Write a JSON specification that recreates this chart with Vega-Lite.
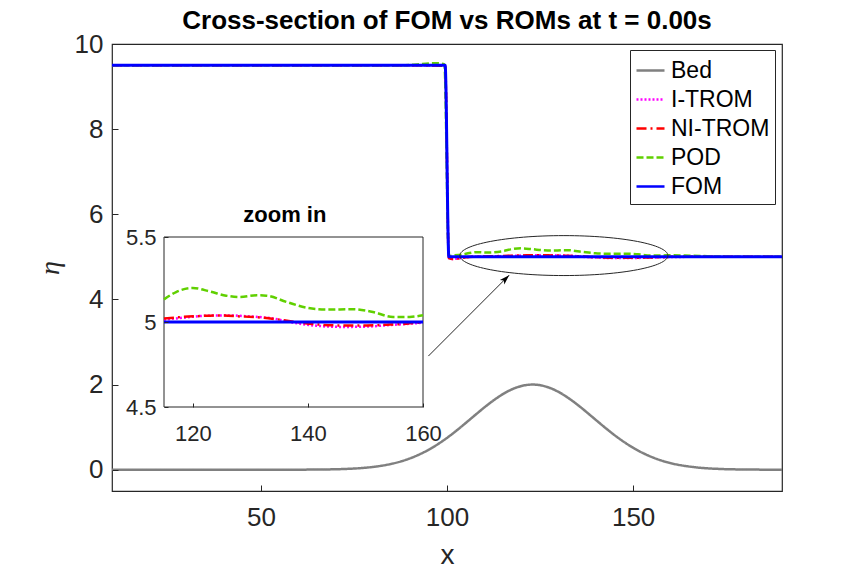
{
  "$schema": "https://vega.github.io/schema/vega-lite/v6.json",
  "width": 670,
  "height": 447,
  "autosize": {"type": "none"},
  "padding": {"left": 112, "top": 44, "right": 82, "bottom": 85},
  "background": "white",
  "config": {
    "font": "Liberation Sans",
    "view": {"stroke": "#262626", "strokeWidth": 1.2},
    "axis": {"grid": false, "labelColor": "#262626", "tickColor": "#262626", "domainColor": "#262626", "titleColor": "#262626", "labelFlush": false, "labelOverlap": false, "labelBound": false}
  },
  "title": {"text": "Cross-section of FOM vs ROMs at t = 0.00s", "fontSize": 26, "fontWeight": "bold", "color": "black", "anchor": "middle", "frame": "group", "offset": -3},
  "datasets": {
    "profiles": [
      {"model": "Bed", "x": 10, "eta": 0},
      {"model": "Bed", "x": 58, "eta": 0.001},
      {"model": "Bed", "x": 63, "eta": 0.0025},
      {"model": "Bed", "x": 68, "eta": 0.007},
      {"model": "Bed", "x": 73, "eta": 0.019},
      {"model": "Bed", "x": 78, "eta": 0.046},
      {"model": "Bed", "x": 80.5, "eta": 0.07},
      {"model": "Bed", "x": 83, "eta": 0.102},
      {"model": "Bed", "x": 85.5, "eta": 0.146},
      {"model": "Bed", "x": 88, "eta": 0.205},
      {"model": "Bed", "x": 90.5, "eta": 0.281},
      {"model": "Bed", "x": 93, "eta": 0.376},
      {"model": "Bed", "x": 95.5, "eta": 0.49},
      {"model": "Bed", "x": 98, "eta": 0.626},
      {"model": "Bed", "x": 100.5, "eta": 0.78},
      {"model": "Bed", "x": 103, "eta": 0.951},
      {"model": "Bed", "x": 105.5, "eta": 1.132},
      {"model": "Bed", "x": 108, "eta": 1.316},
      {"model": "Bed", "x": 110.5, "eta": 1.496},
      {"model": "Bed", "x": 113, "eta": 1.66},
      {"model": "Bed", "x": 115.5, "eta": 1.801},
      {"model": "Bed", "x": 118, "eta": 1.909},
      {"model": "Bed", "x": 120.5, "eta": 1.977},
      {"model": "Bed", "x": 123, "eta": 2.0},
      {"model": "Bed", "x": 125.5, "eta": 1.977},
      {"model": "Bed", "x": 128, "eta": 1.909},
      {"model": "Bed", "x": 130.5, "eta": 1.801},
      {"model": "Bed", "x": 133, "eta": 1.66},
      {"model": "Bed", "x": 135.5, "eta": 1.496},
      {"model": "Bed", "x": 138, "eta": 1.316},
      {"model": "Bed", "x": 140.5, "eta": 1.132},
      {"model": "Bed", "x": 143, "eta": 0.951},
      {"model": "Bed", "x": 145.5, "eta": 0.78},
      {"model": "Bed", "x": 148, "eta": 0.626},
      {"model": "Bed", "x": 150.5, "eta": 0.49},
      {"model": "Bed", "x": 153, "eta": 0.376},
      {"model": "Bed", "x": 155.5, "eta": 0.281},
      {"model": "Bed", "x": 158, "eta": 0.205},
      {"model": "Bed", "x": 160.5, "eta": 0.146},
      {"model": "Bed", "x": 163, "eta": 0.102},
      {"model": "Bed", "x": 165.5, "eta": 0.07},
      {"model": "Bed", "x": 168, "eta": 0.046},
      {"model": "Bed", "x": 173, "eta": 0.019},
      {"model": "Bed", "x": 178, "eta": 0.007},
      {"model": "Bed", "x": 183, "eta": 0.0025},
      {"model": "Bed", "x": 188, "eta": 0.001},
      {"model": "Bed", "x": 190, "eta": 0},

      {"model": "I-TROM", "x": 10, "eta": 9.5},
      {"model": "I-TROM", "x": 90, "eta": 9.5},
      {"model": "I-TROM", "x": 99.5, "eta": 9.49},
      {"model": "I-TROM", "x": 100.5, "eta": 4.97},
      {"model": "I-TROM", "x": 101.5, "eta": 4.95},
      {"model": "I-TROM", "x": 103, "eta": 4.96},
      {"model": "I-TROM", "x": 105, "eta": 4.99},
      {"model": "I-TROM", "x": 108, "eta": 5.005},
      {"model": "I-TROM", "x": 111, "eta": 5.01},
      {"model": "I-TROM", "x": 115, "eta": 5.014},
      {"model": "I-TROM", "x": 118.3, "eta": 5.025},
      {"model": "I-TROM", "x": 122.4, "eta": 5.037},
      {"model": "I-TROM", "x": 125.8, "eta": 5.039},
      {"model": "I-TROM", "x": 129.9, "eta": 5.033},
      {"model": "I-TROM", "x": 134, "eta": 5.02},
      {"model": "I-TROM", "x": 137.5, "eta": 4.996},
      {"model": "I-TROM", "x": 141.5, "eta": 4.978},
      {"model": "I-TROM", "x": 146.1, "eta": 4.971},
      {"model": "I-TROM", "x": 150.2, "eta": 4.973},
      {"model": "I-TROM", "x": 154.2, "eta": 4.982},
      {"model": "I-TROM", "x": 157.7, "eta": 4.99},
      {"model": "I-TROM", "x": 160, "eta": 4.996},
      {"model": "I-TROM", "x": 165, "eta": 5.0},
      {"model": "I-TROM", "x": 190, "eta": 5.0},

      {"model": "NI-TROM", "x": 10, "eta": 9.5},
      {"model": "NI-TROM", "x": 90, "eta": 9.5},
      {"model": "NI-TROM", "x": 99.5, "eta": 9.49},
      {"model": "NI-TROM", "x": 100.5, "eta": 4.97},
      {"model": "NI-TROM", "x": 101.5, "eta": 4.95},
      {"model": "NI-TROM", "x": 103, "eta": 4.96},
      {"model": "NI-TROM", "x": 105, "eta": 4.99},
      {"model": "NI-TROM", "x": 108, "eta": 5.005},
      {"model": "NI-TROM", "x": 111, "eta": 5.012},
      {"model": "NI-TROM", "x": 115, "eta": 5.02},
      {"model": "NI-TROM", "x": 118.3, "eta": 5.03},
      {"model": "NI-TROM", "x": 121.2, "eta": 5.035},
      {"model": "NI-TROM", "x": 124.1, "eta": 5.039},
      {"model": "NI-TROM", "x": 128.2, "eta": 5.033},
      {"model": "NI-TROM", "x": 132.2, "eta": 5.025},
      {"model": "NI-TROM", "x": 135.1, "eta": 5.014},
      {"model": "NI-TROM", "x": 138, "eta": 5.0},
      {"model": "NI-TROM", "x": 141.5, "eta": 4.986},
      {"model": "NI-TROM", "x": 145.6, "eta": 4.98},
      {"model": "NI-TROM", "x": 150.2, "eta": 4.98},
      {"model": "NI-TROM", "x": 153.7, "eta": 4.984},
      {"model": "NI-TROM", "x": 157.1, "eta": 4.99},
      {"model": "NI-TROM", "x": 160, "eta": 5.0},
      {"model": "NI-TROM", "x": 190, "eta": 5.0},

      {"model": "POD", "x": 10, "eta": 9.5},
      {"model": "POD", "x": 88, "eta": 9.5},
      {"model": "POD", "x": 92, "eta": 9.52},
      {"model": "POD", "x": 95, "eta": 9.54},
      {"model": "POD", "x": 97.5, "eta": 9.55},
      {"model": "POD", "x": 99.3, "eta": 9.52},
      {"model": "POD", "x": 100.5, "eta": 5.02},
      {"model": "POD", "x": 102, "eta": 5.04},
      {"model": "POD", "x": 104, "eta": 5.05},
      {"model": "POD", "x": 106, "eta": 5.09},
      {"model": "POD", "x": 108, "eta": 5.11},
      {"model": "POD", "x": 111, "eta": 5.1},
      {"model": "POD", "x": 115, "eta": 5.133},
      {"model": "POD", "x": 117.1, "eta": 5.176},
      {"model": "POD", "x": 120, "eta": 5.2},
      {"model": "POD", "x": 122.9, "eta": 5.18},
      {"model": "POD", "x": 125.8, "eta": 5.155},
      {"model": "POD", "x": 128.2, "eta": 5.147},
      {"model": "POD", "x": 131.1, "eta": 5.157},
      {"model": "POD", "x": 132.8, "eta": 5.155},
      {"model": "POD", "x": 136.3, "eta": 5.118},
      {"model": "POD", "x": 139.8, "eta": 5.084},
      {"model": "POD", "x": 143.2, "eta": 5.073},
      {"model": "POD", "x": 147.9, "eta": 5.075},
      {"model": "POD", "x": 151.3, "eta": 5.059},
      {"model": "POD", "x": 154.8, "eta": 5.03},
      {"model": "POD", "x": 157.7, "eta": 5.03},
      {"model": "POD", "x": 160, "eta": 5.04},
      {"model": "POD", "x": 164, "eta": 5.03},
      {"model": "POD", "x": 168, "eta": 5.02},
      {"model": "POD", "x": 175, "eta": 5.005},
      {"model": "POD", "x": 182, "eta": 5.0},
      {"model": "POD", "x": 190, "eta": 5.0},

      {"model": "FOM", "x": 10, "eta": 9.5},
      {"model": "FOM", "x": 99.5, "eta": 9.5},
      {"model": "FOM", "x": 100.5, "eta": 5.0},
      {"model": "FOM", "x": 115, "eta": 5.0},
      {"model": "FOM", "x": 160, "eta": 5.0},
      {"model": "FOM", "x": 190, "eta": 5.0}
    ]
  },
  "layer": [
    {
      "data": {"name": "profiles"},
      "layer": [
        {
          "transform": [{"filter": "datum.model === 'Bed'"}],
          "mark": {"type": "line", "strokeWidth": 2.5, "interpolate": "monotone"},
          "encoding": {
            "x": {"field": "x", "type": "quantitative", "scale": {"domain": [10, 190], "nice": false, "zero": false},
              "axis": {"values": [50, 100, 150], "format": "d", "title": "x", "domain": false, "tickSize": -6, "labelPadding": 19, "labelFontSize": 26, "titleFontSize": 28, "titleFontWeight": "normal", "titlePadding": 11, "zindex": 1}},
            "y": {"field": "eta", "type": "quantitative", "scale": {"domain": [-0.5, 10], "nice": false, "zero": false},
              "axis": {"values": [0, 2, 4, 6, 8, 10], "format": "d", "title": "η", "domain": false, "tickSize": -6, "labelPadding": 15, "labelFontSize": 26, "titleFont": "Liberation Serif", "titleFontStyle": "italic", "titleFontWeight": "normal", "titleFontSize": 28, "titlePadding": 10, "zindex": 1}},
            "color": {"field": "model", "type": "nominal",
              "scale": {"domain": ["Bed", "I-TROM", "NI-TROM", "POD", "FOM"], "range": ["#808080", "#ff00ff", "#ff0000", "#60d000", "#0000ff"]},
              "legend": {"title": null, "orient": "none", "legendX": 518, "legendY": 6, "strokeColor": "#262626", "fillColor": "white", "padding": 5, "symbolType": "stroke", "symbolSize": 784, "symbolStrokeWidth": 2.5, "labelFontSize": 23, "labelColor": "black", "labelOffset": 5, "rowPadding": 1, "labelLimit": 300}},
            "strokeDash": {"field": "model", "type": "nominal",
              "scale": {"domain": ["Bed", "I-TROM", "NI-TROM", "POD", "FOM"], "range": [[1, 0], [2, 2], [10, 4, 2, 4], [7, 3], [1, 0]]},
              "legend": {"title": null}}
          }
        },
        {
          "transform": [{"filter": "datum.model === 'I-TROM'"}],
          "mark": {"type": "line", "strokeWidth": 2.5, "interpolate": "monotone"},
          "encoding": {
            "x": {"field": "x", "type": "quantitative"},
            "y": {"field": "eta", "type": "quantitative"},
            "color": {"field": "model", "type": "nominal"},
            "strokeDash": {"field": "model", "type": "nominal"}
          }
        },
        {
          "transform": [{"filter": "datum.model === 'NI-TROM'"}],
          "mark": {"type": "line", "strokeWidth": 2.5, "interpolate": "monotone"},
          "encoding": {
            "x": {"field": "x", "type": "quantitative"},
            "y": {"field": "eta", "type": "quantitative"},
            "color": {"field": "model", "type": "nominal"},
            "strokeDash": {"field": "model", "type": "nominal"}
          }
        },
        {
          "transform": [{"filter": "datum.model === 'POD'"}],
          "mark": {"type": "line", "strokeWidth": 2.5, "interpolate": "monotone"},
          "encoding": {
            "x": {"field": "x", "type": "quantitative"},
            "y": {"field": "eta", "type": "quantitative"},
            "color": {"field": "model", "type": "nominal"},
            "strokeDash": {"field": "model", "type": "nominal"}
          }
        },
        {
          "transform": [{"filter": "datum.model === 'FOM'"}],
          "mark": {"type": "line", "strokeWidth": 3, "interpolate": "monotone"},
          "encoding": {
            "x": {"field": "x", "type": "quantitative"},
            "y": {"field": "eta", "type": "quantitative"},
            "color": {"field": "model", "type": "nominal"},
            "strokeDash": {"field": "model", "type": "nominal"}
          }
        },
        {
          "data": {"values": [{}]},
          "mark": {"type": "point", "shape": "M-1,0C-1,-0.106,-0.5523,-0.192,0,-0.192C0.5523,-0.192,1,-0.106,1,0C1,0.106,0.5523,0.192,0,0.192C-0.5523,0.192,-1,0.106,-1,0Z", "size": 43264, "filled": false, "color": "#262626", "strokeWidth": 1, "opacity": 1},
          "encoding": {
            "x": {"datum": 131.4, "type": "quantitative"},
            "y": {"datum": 5.03, "type": "quantitative"}
          }
        },
        {
          "data": {"values": [{}]},
          "mark": {"type": "rule", "color": "#262626", "strokeWidth": 1},
          "encoding": {
            "x": {"datum": 95, "type": "quantitative"},
            "y": {"datum": 2.67, "type": "quantitative"},
            "x2": {"datum": 116.7},
            "y2": {"datum": 4.57}
          }
        },
        {
          "data": {"values": [{}]},
          "mark": {"type": "point", "shape": "M0,0L0.5,1.6L0,1.2L-0.5,1.6Z", "size": 156, "filled": true, "color": "black", "angle": 45, "opacity": 1},
          "encoding": {
            "x": {"datum": 116.7, "type": "quantitative"},
            "y": {"datum": 4.57, "type": "quantitative"}
          }
        }
      ]
    },
    {
      "data": {"name": "profiles"},
      "transform": [{"filter": "datum.model !== 'Bed' && datum.x >= 115 && datum.x <= 160"}],
      "layer": [
        {
          "data": {"values": [{}]},
          "mark": {"type": "rect", "fill": "white", "stroke": "#262626", "strokeWidth": 1},
          "encoding": {
            "x": {"datum": 115, "type": "quantitative", "scale": {"domain": [115, 160], "range": [52, 311], "nice": false, "zero": false},
              "axis": {"orient": "bottom", "offset": -84, "values": [120, 140, 160], "format": "d", "title": null, "domain": false, "tickSize": -4, "labelPadding": 20, "labelFontSize": 22, "zindex": 2}},
            "x2": {"datum": 160},
            "y": {"datum": 4.5, "type": "quantitative", "scale": {"domain": [4.5, 5.5], "range": [363, 193], "nice": false, "zero": false},
              "axis": {"orient": "left", "offset": -52, "values": [4.5, 5, 5.5], "format": "~g", "title": null, "domain": false, "tickSize": -4, "labelPadding": 12, "labelFontSize": 22, "zindex": 2}},
            "y2": {"datum": 5.5}
          }
        },
        {
          "transform": [{"filter": "datum.model === 'I-TROM'"}],
          "mark": {"type": "line", "strokeWidth": 2.5, "interpolate": "monotone"},
          "encoding": {
            "x": {"field": "x", "type": "quantitative"},
            "y": {"field": "eta", "type": "quantitative"},
            "color": {"field": "model", "type": "nominal"},
            "strokeDash": {"field": "model", "type": "nominal"}
          }
        },
        {
          "transform": [{"filter": "datum.model === 'NI-TROM'"}],
          "mark": {"type": "line", "strokeWidth": 2.5, "interpolate": "monotone"},
          "encoding": {
            "x": {"field": "x", "type": "quantitative"},
            "y": {"field": "eta", "type": "quantitative"},
            "color": {"field": "model", "type": "nominal"},
            "strokeDash": {"field": "model", "type": "nominal"}
          }
        },
        {
          "transform": [{"filter": "datum.model === 'POD'"}],
          "mark": {"type": "line", "strokeWidth": 2.5, "interpolate": "monotone"},
          "encoding": {
            "x": {"field": "x", "type": "quantitative"},
            "y": {"field": "eta", "type": "quantitative"},
            "color": {"field": "model", "type": "nominal"},
            "strokeDash": {"field": "model", "type": "nominal"}
          }
        },
        {
          "transform": [{"filter": "datum.model === 'FOM'"}],
          "mark": {"type": "line", "strokeWidth": 3, "interpolate": "monotone"},
          "encoding": {
            "x": {"field": "x", "type": "quantitative"},
            "y": {"field": "eta", "type": "quantitative"},
            "color": {"field": "model", "type": "nominal"},
            "strokeDash": {"field": "model", "type": "nominal"}
          }
        },
        {
          "data": {"values": [{"label": "zoom in"}]},
          "mark": {"type": "text", "fontSize": 22, "fontWeight": "bold", "color": "black", "baseline": "alphabetic", "dy": -15},
          "encoding": {
            "x": {"datum": 136, "type": "quantitative"},
            "y": {"datum": 5.5, "type": "quantitative"},
            "text": {"field": "label"}
          }
        }
      ]
    }
  ],
  "resolve": {"scale": {"x": "independent", "y": "independent"}}
}
